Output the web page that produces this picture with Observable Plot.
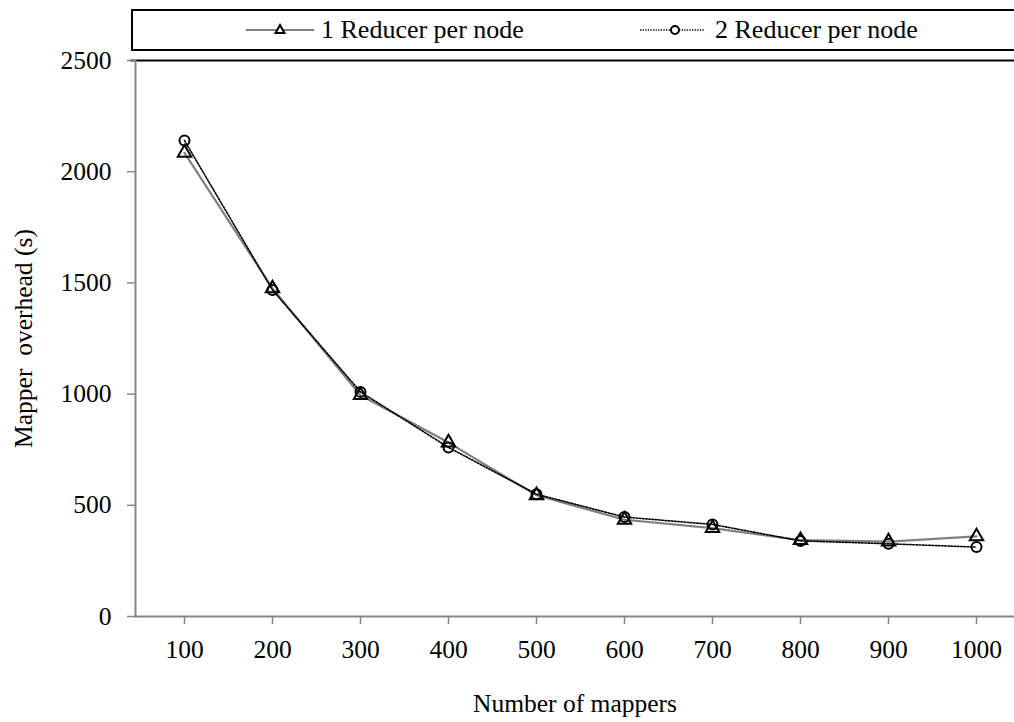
<!DOCTYPE html>
<html>
<head>
<meta charset="utf-8">
<script src="https://cdn.jsdelivr.net/npm/d3@7"></script>
<script src="https://cdn.jsdelivr.net/npm/@observablehq/plot@0.6"></script>
<style>
  html, body { margin: 0; padding: 0; background: white; }
  #wrap { position: relative; width: 1014px; height: 722px; overflow: hidden; font-family: "Liberation Serif", "Times New Roman", serif; }
  #legend { position: absolute; z-index: 2; top: 9px; left: 131px; width: 900px; height: 38px; border: 2px solid black; background: white; }
  .item { position: absolute; top: 0; height: 38px; display: flex; align-items: center; font-size: 26px; color: black; white-space: nowrap; }
  .item svg { display: block; }
  #chart svg { display: block; }
</style>
</head>
<body>
<div id="wrap">
  <div id="legend"></div>
  <div id="chart"></div>
</div>
<script>
const mappers = [100, 200, 300, 400, 500, 600, 700, 800, 900, 1000];
const reducer1 = [2085, 1475, 995, 782, 545, 435, 397, 343, 337, 360];
const reducer2 = [2140, 1468, 1010, 760, 550, 447, 414, 340, 327, 312];
const seriesNames = ["1 Reducer per node", "2 Reducer per node"];
const yTicks = [0, 500, 1000, 1500, 2000, 2500];

const s1 = mappers.map((m, i) => ({mappers: m, value: reducer1[i]}));
const s2 = mappers.map((m, i) => ({mappers: m, value: reducer2[i]}));

const chart = Plot.plot({
  width: 1014,
  height: 722,
  marginTop: 60,
  marginBottom: 106,
  marginLeft: 135,
  marginRight: 0,
  style: {fontFamily: "'Liberation Serif', 'Times New Roman', serif", fontSize: "25.5px", color: "black", background: "white"},
  x: {type: "point", domain: mappers, range: [180, 980], padding: 0},
  y: {domain: [0, 2500]},
  marks: [
    Plot.frame({anchor: "top", stroke: "black", strokeWidth: 2, insetLeft: -4}),
    Plot.axisY({ticks: yTicks, tickFormat: d => String(d), tickSize: 8, tickPadding: 16, stroke: "#868686", strokeWidth: 1.5, fontSize: 25.5,
      label: "Mapper\u00a0 overhead (s)", labelAnchor: "center", labelOffset: 122, labelArrow: "none"}),
    Plot.axisX({tickFormat: d => String(d), tickSize: 8, tickPadding: 15, stroke: "#868686", strokeWidth: 1.5, fontSize: 25.5,
      label: "Number of mappers", labelAnchor: "center", labelOffset: 95, labelArrow: "none"}),
    Plot.frame({anchor: "left", stroke: "#868686", strokeWidth: 2}),
    Plot.frame({anchor: "bottom", stroke: "#868686", strokeWidth: 2}),
    Plot.line(s1, {x: "mappers", y: "value", stroke: "#7f7f7f", strokeWidth: 2.2}),
    Plot.line(s2, {x: "mappers", y: "value", stroke: "black", strokeWidth: 1.6, strokeDasharray: "1.6,1.6"}),
    Plot.dot(s1, {x: "mappers", y: "value", symbol: "triangle", r: 5, stroke: "black", strokeWidth: 2, fill: "none"}),
    Plot.dot(s2, {x: "mappers", y: "value", symbol: "circle", r: 5, stroke: "black", strokeWidth: 2, fill: "none"})
  ]
});
document.getElementById("chart").appendChild(chart);

// legend
const legend = document.getElementById("legend");
const items = [
  {left: 111, label: seriesNames[0], swatch:
    '<svg width="70" height="20"><line x1="2" y1="10" x2="70" y2="10" stroke="#7f7f7f" stroke-width="2"/><path d="M36,5 L40.5,13 L31.5,13 Z" fill="white" stroke="black" stroke-width="2"/></svg>'},
  {left: 505, label: seriesNames[1], swatch:
    '<svg width="70" height="20"><line x1="2" y1="10" x2="67" y2="10" stroke="black" stroke-width="1.3" stroke-dasharray="1.3,1.3"/><circle cx="37" cy="10" r="4" fill="white" stroke="black" stroke-width="2"/></svg>'}
];
items.forEach(it => {
  const d = document.createElement("div");
  d.className = "item";
  d.style.left = it.left + "px";
  d.innerHTML = it.swatch + '<span style="margin-left:7px">' + it.label + '</span>';
  legend.appendChild(d);
});
</script>
</body>
</html>
